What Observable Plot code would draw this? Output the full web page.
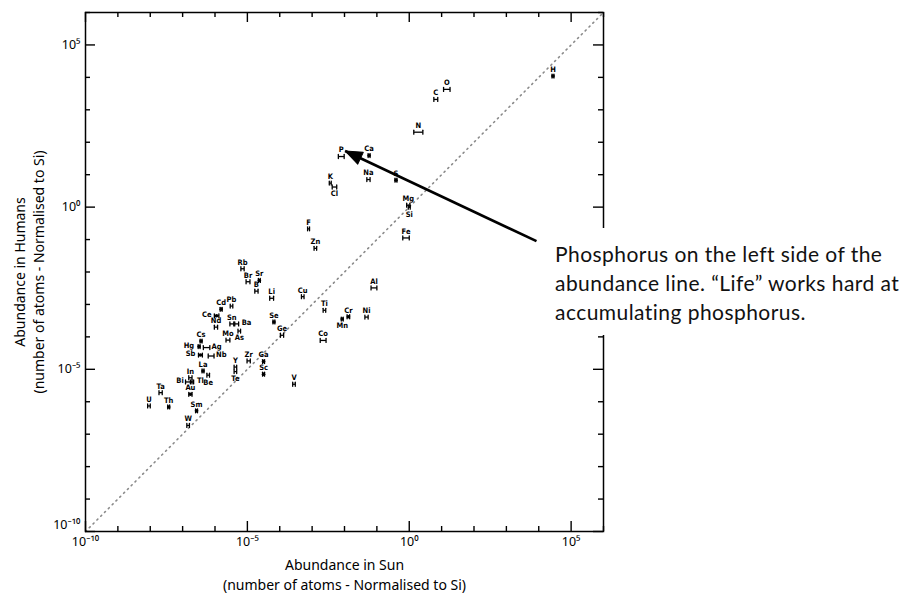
<!DOCTYPE html>
<html><head><meta charset="utf-8">
<script src="https://cdn.jsdelivr.net/npm/d3@7"></script>
<script src="https://cdn.jsdelivr.net/npm/@observablehq/plot@0.6"></script>
<style>
body{margin:0;background:#fff;}
#wrap{position:relative;width:912px;height:595px;overflow:hidden;}
#note{position:absolute;left:549px;top:228px;width:357px;height:107px;box-sizing:border-box;padding:11px 0 0 6px;background:#fff;font-family:Lato,"Open Sans",sans-serif;font-size:21px;letter-spacing:0.45px;line-height:29px;color:#111;white-space:nowrap;}
</style></head><body><div id="wrap"><div id="note">Phosphorus on the left side of the<br>abundance line. “Life” works hard at<br>accumulating phosphorus.</div></div>
<script>
// element symbols
const elements = ["H","O","C","N","P","Ca","Na","S","K","Cl","Mg","Si","Fe","F","Zn","Al","Cu","Ti","Cr","Mn","Ni","Co",
  "Rb","Br","Sr","B","Li","Pb","Cd","Ce","Sn","Ba","Nd","Mo","As","Se","Ge","Cs","Hg","Ag","Sb","Nb","La","Y","Te","Zr","Ga","Sc","V",
  "In","Bi","Tl","Be","Au","Ta","U","Th","Sm","W"];
// log10 abundance in Sun (normalised to Si)
const sunLog = [4.44,1.16,0.82,0.28,-2.10,-1.24,-1.26,-0.41,-2.44,-2.31,-0.03,0,-0.10,-3.11,-2.90,-1.09,-3.29,-2.62,-1.88,-2.07,-1.32,-2.66,
  -5.15,-4.98,-4.63,-4.72,-4.25,-5.49,-5.81,-5.95,-5.48,-5.33,-5.97,-5.60,-5.25,-4.18,-3.93,-6.43,-6.49,-6.26,-6.45,-6.12,-6.37,-5.37,-5.37,-4.96,-4.50,-4.50,-3.56,
  -6.76,-6.81,-6.71,-6.21,-6.76,-7.68,-8.04,-7.43,-6.57,-6.83];
// log10 abundance in humans (normalised to Si)
const humanLog = [4.04,3.63,3.32,2.31,1.56,1.59,0.85,0.83,0.74,0.62,0.06,0,-0.95,-0.67,-1.27,-2.49,-2.76,-3.18,-3.38,-3.45,-3.39,-4.11,
  -1.90,-2.30,-2.26,-2.59,-2.81,-3.05,-3.15,-3.35,-3.60,-3.60,-3.70,-4.10,-3.82,-3.54,-3.95,-4.13,-4.30,-4.33,-4.56,-4.59,-5.05,-4.93,-5.07,-4.74,-4.76,-5.15,-5.46,
  -5.26,-5.39,-5.39,-5.18,-5.77,-5.72,-6.13,-6.16,-6.28,-6.73];
// half-width of the Sun error bar, in decades
const sunErr = [0.03,0.10,0.06,0.14,0.09,0.03,0.05,0.03,0.03,0.07,0.05,0.03,0.10,0.03,0.04,0.09,0.04,0.04,0.04,0.03,0.05,0.09,
  0.05,0.06,0.03,0.05,0.06,0.04,0.03,0.07,0.06,0.06,0.05,0.06,0.04,0.03,0.05,0.03,0.03,0.10,0.06,0.09,0.03,0.04,0.04,0.05,0.03,0.03,0.04,
  0.05,0.10,0.05,0.04,0.05,0.05,0.04,0.03,0.03,0.04];
// elements drawn with a filled point
const pointElements = ["H","Ca","S","Sr","Cd","Cr","Mn","Cs","Sb","La","Sc","Ga","Se","Th","Sm","Au","Ce","Hg"];
// label placement groups (style)
const labelBelow = ["Si","Cl","Te","Mn","As","Be"];
const labelLeft = ["Sb","Bi","Hg","Ce"];
const labelRight = ["Ba","Nb","Tl","Ag"];

const axisRange = [1e-10, 1e6];
const decades = d3.range(-10, 7).map(e => 10 ** e);
const majorTicks = [1e-10, 1e-5, 1, 1e5];
const minorTicks = decades.filter(d => !majorTicks.includes(d));

// annotation arrow (log10 Sun, log10 Humans): from text to P
const arrowSun = [3.93, -1.98];
const arrowHuman = [-1.05, 1.73];

const rows = elements.map((el, i) => ({el, x: 10 ** sunLog[i], y: 10 ** humanLog[i], e: sunErr[i]}));
const sup = {"-":"⁻","0":"⁰","1":"¹","2":"²","3":"³","4":"⁴","5":"⁵","6":"⁶","7":"⁷","8":"⁸","9":"⁹"};
const fmt = d => "10" + String(Math.round(Math.log10(d))).split("").map(c => sup[c]).join("");

const W = 912, H = 595, mL = 85, mR = 309, mT = 12, mB = 64;
const fw = W - mL - mR, fh = H - mT - mB;

const lineShape = {draw(ctx, l) { ctx.moveTo(0, 0); ctx.lineTo(0, -l); }};
const triShape = {draw(ctx, l) { ctx.moveTo(0, -l); ctx.lineTo(-6.5, 0); ctx.lineTo(6.5, 0); ctx.closePath(); }};

const tickStyle = {stroke: "black", strokeWidth: 1.4};
const tickMarks = [[majorTicks, 10], [minorTicks, 5]].flatMap(([t, len]) => [
  Plot.tickX(t, {x: d => d, insetTop: fh - len, ...tickStyle}),
  Plot.tickX(t, {x: d => d, insetBottom: fh - len, ...tickStyle}),
  Plot.tickY(t, {y: d => d, insetRight: fw - len, ...tickStyle}),
  Plot.tickY(t, {y: d => d, insetLeft: fw - len, ...tickStyle})
]);

const ang = Math.atan2(arrowSun[1] - arrowSun[0], arrowHuman[1] - arrowHuman[0]) * 180 / Math.PI;
const labFont = {fontSize: 7.5, fontWeight: "bold", fontFamily: "DejaVu Sans Condensed", fill: "black"};
const inSet = s => d => s.includes(d.el);
const above = rows.filter(d => !labelBelow.includes(d.el) && !labelLeft.includes(d.el) && !labelRight.includes(d.el));

const chart = Plot.plot({
  width: W, height: H,
  marginLeft: mL, marginRight: mR, marginTop: mT, marginBottom: mB,
  x: {type: "log", domain: axisRange, axis: null},
  y: {type: "log", domain: axisRange, axis: null},
  style: {fontFamily: "'Noto Sans', sans-serif", background: "white"},
  marks: [
    Plot.line(axisRange, {x: d => d, y: d => d, stroke: "#8a8a8a", strokeWidth: 1.6, strokeDasharray: "1.2,4.2", strokeLinecap: "round"}),
    Plot.frame({stroke: "black", strokeWidth: 1.5}),
    ...tickMarks,
    Plot.axisX({ticks: majorTicks, tickSize: 0, tickPadding: 6, tickFormat: fmt, fontSize: 12.5, anchor: "bottom", label: null}),
    Plot.axisY({ticks: majorTicks.slice(1), tickSize: 0, tickPadding: 5, tickFormat: fmt, fontSize: 12.5, anchor: "left", label: null}),
    Plot.axisY({ticks: majorTicks.slice(0, 1), tickSize: 0, tickPadding: 5, tickFormat: fmt, fontSize: 12.5, anchor: "left", dy: -7, label: null}),
    Plot.text(["Abundance in Sun\n(number of atoms - Normalised to Si)"], {frameAnchor: "bottom", dy: 58, text: d => d, fontSize: 14, lineHeight: 1.36, fill: "black"}),
    Plot.text(["Abundance in Humans\n(number of atoms - Normalised to Si)"], {frameAnchor: "left", dx: -57, rotate: -90, textAnchor: "middle", lineAnchor: "middle", text: d => d, fontSize: 14, lineHeight: 1.36, fill: "black"}),
    // error bars
    Plot.link(rows, {x1: d => d.x * 10 ** -d.e, x2: d => d.x * 10 ** d.e, y1: "y", y2: "y", stroke: "black", strokeWidth: 1.3}),
    Plot.vector(rows, {x: d => d.x * 10 ** -d.e, y: "y", length: 4, anchor: "middle", shape: lineShape, stroke: "black", strokeWidth: 1.3}),
    Plot.vector(rows, {x: d => d.x * 10 ** d.e, y: "y", length: 4, anchor: "middle", shape: lineShape, stroke: "black", strokeWidth: 1.3}),
    Plot.dot(rows.filter(inSet(pointElements)), {x: "x", y: "y", r: 1.8, fill: "black"}),
    // labels
    Plot.text(above, {x: "x", y: "y", text: "el", dy: -6.5, ...labFont}),
    Plot.text(rows.filter(inSet(labelBelow)), {x: "x", y: "y", text: "el", dy: 7, ...labFont}),
    Plot.text(rows.filter(inSet(labelLeft)), {x: "x", y: "y", text: "el", dx: -5, dy: -1, textAnchor: "end", ...labFont}),
    Plot.text(rows.filter(inSet(labelRight)), {x: "x", y: "y", text: "el", dx: 5, dy: -1, textAnchor: "start", ...labFont}),
    // annotation arrow
    Plot.link([0], {x1: () => 10 ** arrowSun[0], y1: () => 10 ** arrowHuman[0], x2: () => 10 ** arrowSun[1], y2: () => 10 ** arrowHuman[1], stroke: "black", strokeWidth: 2.6}),
    Plot.vector([0], {x: () => 10 ** arrowSun[1], y: () => 10 ** arrowHuman[1], rotate: ang, length: 17, anchor: "end", shape: triShape, fill: "black", stroke: "black", strokeWidth: 1})
  ]
});
const wrap = document.getElementById("wrap");
wrap.insertBefore(chart, wrap.firstChild);
chart.style.position = "absolute"; chart.style.left = "0"; chart.style.top = "0";
</script></body></html>
